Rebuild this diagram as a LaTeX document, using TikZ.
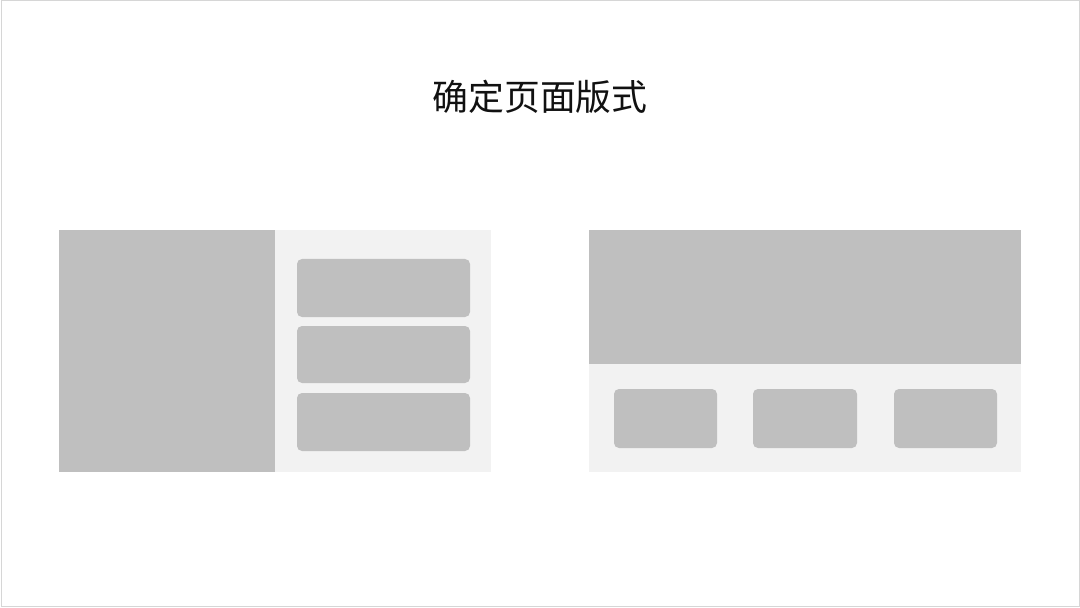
\documentclass[tikz,border=0pt]{standalone}
\usepackage{fontspec}
\newfontfamily\cjk{Noto Sans CJK SC}
\definecolor{darkblk}{HTML}{BFBFBF}
\definecolor{lightblk}{HTML}{F2F2F2}
\definecolor{frameclr}{HTML}{D6D6D6}
\definecolor{titleclr}{HTML}{111111}
\begin{document}
\begin{tikzpicture}[x=1bp,y=-1bp,
  darkpart/.style={fill=darkblk},
  lightpart/.style={fill=lightblk},
  cardbox/.style={fill=darkblk, rounded corners=5bp}]
\useasboundingbox (0,0) rectangle (1080,608);
\fill[white] (0,0) rectangle (1080,608);
\draw[frameclr, line width=1bp] (1.5,1) rectangle (1079,606.5);
% title
\node[text=titleclr, font=\cjk\fontsize{36}{42}\selectfont, inner sep=0pt] (title) at (540,97) {确定页面版式};
% left layout
\fill[lightpart] (275,230) rectangle (491,472);
\fill[darkpart] (59,230) rectangle (275,472);
\fill[cardbox] (297,259) rectangle (470,317);
\fill[cardbox] (297,326) rectangle (470,383);
\fill[cardbox] (297,393) rectangle (470,451);
% right layout
\fill[lightpart] (589,364) rectangle (1021,472);
\fill[darkpart] (589,230) rectangle (1021,364);
\fill[cardbox] (614,389) rectangle (717,448);
\fill[cardbox] (753,389) rectangle (857,448);
\fill[cardbox] (894,389) rectangle (997,448);
\end{tikzpicture}
\end{document}
